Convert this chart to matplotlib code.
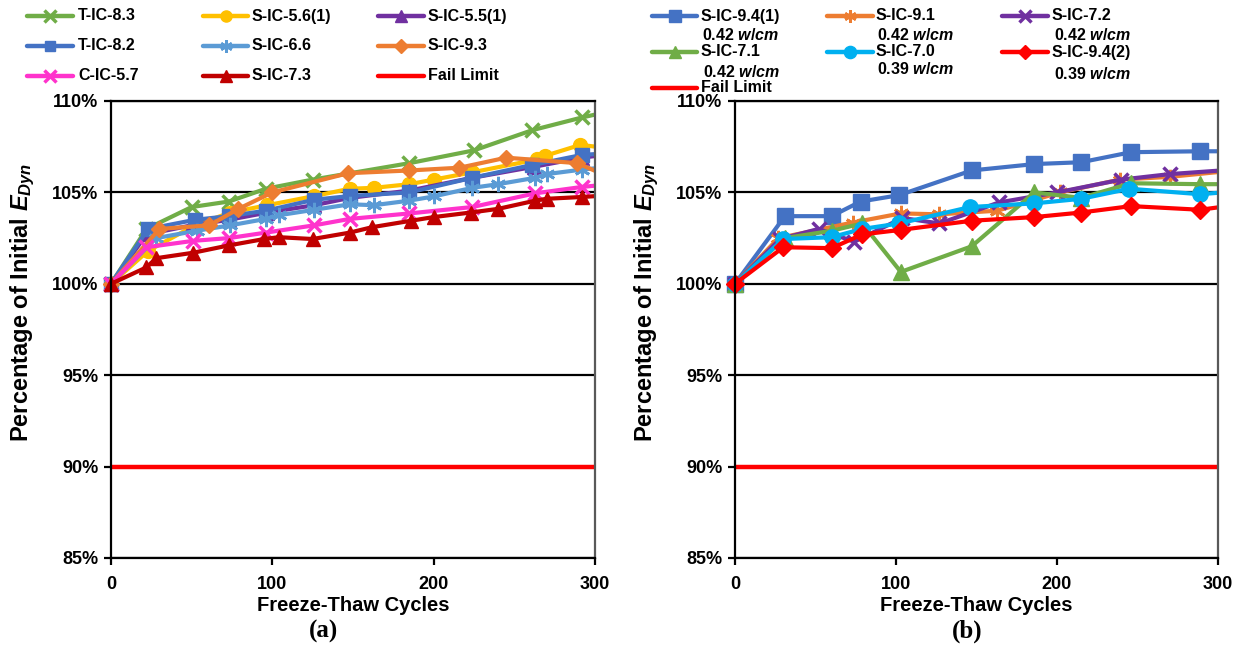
import numpy as np
import matplotlib
matplotlib.use('Agg')
import matplotlib.pyplot as plt
from matplotlib.lines import Line2D
from matplotlib.patches import Rectangle
from matplotlib.ticker import FuncFormatter

plt.rcParams['font.family'] = 'Liberation Sans'
plt.rcParams['font.weight'] = 'bold'
plt.rcParams['mathtext.fontset'] = 'custom'
plt.rcParams['mathtext.rm'] = 'Liberation Sans:bold'
plt.rcParams['mathtext.it'] = 'Liberation Sans:italic:bold'

# ---- (a) ----
t83_x = [0, 22, 50, 73, 96, 125, 185, 225, 261, 292, 310]
t83_y = [100, 103.0, 104.2, 104.5, 105.2, 105.7, 106.6, 107.3, 108.4, 109.1, 109.45]
s56_x = [0, 23, 52, 74, 97, 126, 148, 163, 185, 200, 224, 264, 269, 291, 310]
s56_y = [100, 101.8, 103.2, 103.9, 104.3, 104.8, 105.2, 105.25, 105.45, 105.7, 106.1, 106.8, 107.0, 107.6, 107.4]
s55_x = [0, 22, 50, 73, 97, 126, 148, 185, 224, 262, 292, 310]
s55_y = [100, 102.7, 103.2, 103.5, 103.9, 104.3, 104.7, 105.1, 105.8, 106.4, 106.9, 107.1]
t82_x = [0, 23, 52, 73, 96, 126, 148, 185, 224, 261, 292, 310]
t82_y = [100, 103.0, 103.5, 103.7, 104.0, 104.6, 104.8, 105.0, 105.8, 106.5, 107.05, 107.15]
s66_x = [0, 28, 53, 74, 96, 104, 126, 148, 163, 185, 200, 224, 240, 263, 270, 292, 310]
s66_y = [100, 102.5, 102.9, 103.2, 103.55, 103.75, 104.05, 104.35, 104.3, 104.55, 104.78,
         105.25, 105.45, 105.8, 106.0, 106.25, 106.4]
s93_x = [0, 30, 61, 79, 100, 147, 185, 216, 245, 289, 310]
s93_y = [100, 103.0, 103.2, 104.1, 105.0, 106.05, 106.2, 106.35, 106.9, 106.6, 105.8]
c57_x = [0, 22, 51, 73, 96, 126, 148, 185, 224, 263, 292, 310]
c57_y = [100, 102.0, 102.35, 102.5, 102.8, 103.2, 103.55, 103.85, 104.2, 104.95, 105.3, 105.45]
s73_x = [0, 22, 28, 51, 73, 95, 104, 125, 148, 162, 186, 200, 223, 240, 263, 270, 292, 310]
s73_y = [100, 100.9, 101.4, 101.7, 102.1, 102.45, 102.55, 102.45, 102.8, 103.1, 103.45,
         103.65, 103.9, 104.1, 104.55, 104.65, 104.75, 104.85]

# ---- (b) ----
s941_x = [0, 31, 60, 78, 102, 147, 186, 215, 246, 289, 310]
s941_y = [100, 103.7, 103.7, 104.5, 104.85, 106.2, 106.55, 106.65, 107.2, 107.25, 107.25]
s91_x = [0, 27, 73, 103, 127, 163, 202, 239, 270, 310]
s91_y = [100, 102.5, 103.35, 103.85, 103.8, 104.0, 105.0, 105.7, 105.85, 106.2]
s72_x = [0, 28, 52, 74, 104, 127, 164, 200, 240, 270, 310]
s72_y = [100, 102.45, 103.0, 102.3, 103.6, 103.3, 104.45, 105.0, 105.7, 106.0, 106.25]
s71_x = [0, 31, 60, 79, 103, 147, 186, 215, 246, 289, 310]
s71_y = [100, 102.5, 102.9, 103.3, 100.65, 102.05, 105.0, 104.7, 105.5, 105.45, 105.45]
s70_x = [0, 30, 60, 79, 102, 146, 186, 215, 245, 289, 310]
s70_y = [100, 102.45, 102.55, 103.0, 103.3, 104.2, 104.4, 104.65, 105.2, 104.9, 105.05]
s942_x = [0, 30, 60, 79, 103, 147, 186, 215, 246, 289, 310]
s942_y = [100, 102.0, 101.95, 102.7, 102.95, 103.45, 103.65, 103.9, 104.25, 104.05, 104.3]

fail_x = [0, 300]
fail_y = [90, 90]

ASTER = (6, 2, 0)
# label, x, y, color, marker, markersize, markeredgewidth
series_a = [
    ('T-IC-8.3', t83_x, t83_y, '#70AD47', 'x', 10, 2.5),
    ('S-IC-5.6(1)', s56_x, s56_y, '#FFC000', 'o', 10, 1),
    ('S-IC-5.5(1)', s55_x, s55_y, '#7030A0', '^', 10, 1),
    ('T-IC-8.2', t82_x, t82_y, '#4472C4', 's', 9.5, 1),
    ('S-IC-6.6', s66_x, s66_y, '#5B9BD5', ASTER, 11, 2),
    ('S-IC-9.3', s93_x, s93_y, '#ED7D31', 'D', 8.5, 1),
    ('C-IC-5.7', c57_x, c57_y, '#FF33CC', 'x', 10, 2.5),
    ('S-IC-7.3', s73_x, s73_y, '#C00000', '^', 10.5, 1),
]
series_b = [
    ('S-IC-9.4(1)', s941_x, s941_y, '#4472C4', 's', 11, 1),
    ('S-IC-9.1', s91_x, s91_y, '#ED7D31', ASTER, 11, 2),
    ('S-IC-7.2', s72_x, s72_y, '#7030A0', 'x', 10, 2.5),
    ('S-IC-7.1', s71_x, s71_y, '#70AD47', '^', 11, 1),
    ('S-IC-7.0', s70_x, s70_y, '#00B0F0', 'o', 11, 1),
    ('S-IC-9.4(2)', s942_x, s942_y, '#FF0000', 'D', 9.5, 1),
]

W, H = 1245, 661
fig = plt.figure(figsize=(W / 100, H / 100), dpi=100)


def fx(px):
    return px / W


def fy(py):
    return 1 - py / H


def setup(ax):
    ax.set_xlim(0, 300)
    ax.set_ylim(85, 110)
    ax.set_xticks([0, 100, 200, 300])
    ax.set_yticks([85, 90, 95, 100, 105, 110])
    ax.yaxis.set_major_formatter(FuncFormatter(lambda v, p: '%d%%' % v))
    ax.yaxis.grid(True, color='black', lw=1.6)
    ax.set_axisbelow(True)
    for s in ['left', 'bottom', 'top']:
        ax.spines[s].set_color('black')
        ax.spines[s].set_linewidth(1.6)
    ax.spines['right'].set_color('#595959')
    ax.spines['right'].set_linewidth(1.6)
    ax.tick_params(axis='both', direction='out', length=5, width=1.6, labelsize=13)
    ax.tick_params(axis='y', pad=4)
    ax.tick_params(axis='x', pad=8)
    ax.set_xlabel('Freeze-Thaw Cycles', fontsize=14.5, fontweight='bold')
    ax.xaxis.set_label_coords(0.5, -0.084)
    ax.set_ylabel(r'Percentage of Initial $\mathit{E_{Dyn}}$', fontsize=17,
                  fontweight='bold')
    ax.yaxis.set_label_coords(-0.153, 0.56)


def draw(ax, series):
    clip = Rectangle((-0.06, -0.1), 1.06, 1.2, transform=ax.transAxes)
    for name, x, y, c, m, ms, mew in series:
        ln, = ax.plot(x, y, color=c, lw=3, marker=m, ms=ms, mew=mew, mec=c, mfc=c)
        ln.set_clip_path(clip)
    ax.plot(fail_x, fail_y, color='#FF0000', lw=3.2, solid_capstyle='butt')


def key(x0, x1, y, color, marker=None, ms=0, mew=1):
    xs = [fx(x0), fx((x0 + x1) / 2), fx(x1)]
    ys = [fy(y)] * 3
    ln = Line2D(xs, ys, transform=fig.transFigure, color=color, lw=3.2,
                marker=marker, ms=ms * 0.8, mew=mew, mec=color, mfc=color,
                markevery=[1], solid_capstyle='round')
    fig.add_artist(ln)


ax1 = fig.add_axes([fx(111), 103 / H, 484 / W, 457 / H])
ax2 = fig.add_axes([fx(735), 103 / H, 483 / W, 457 / H])
setup(ax1)
setup(ax2)
draw(ax1, series_a)
draw(ax2, series_b)

LFS = 11.5

# legend for (a): three columns, row-wise order
cols_a = [(27, 73, 78), (203, 248, 252), (378, 424, 428)]
rows_a = [16, 46, 76]
entries_a = series_a + [('Fail Limit', None, None, '#FF0000', None, 0, 1)]
for i, (name, _, _, c, m, ms, mew) in enumerate(entries_a):
    x0, x1, tx = cols_a[i % 3]
    y = rows_a[i // 3]
    key(x0, x1, y, c, m, ms, mew)
    fig.text(fx(tx), fy(y), name, fontsize=LFS, fontweight='bold', va='center')

# legend for (b): two-line labels
cols_b = [(652, 697, 701), (827, 873, 876), (1002, 1048, 1052)]
subs_b = ['0.42 $w/cm$', '0.42 $w/cm$', '0.42 $w/cm$',
          '0.42 $w/cm$', '0.39 $w/cm$', '0.39 $w/cm$']
sub_dy = [19, 19, 19, 20, 17, 22]
sub_dx = [1, 1, 2, 2, 1, 2]
for i, (name, _, _, c, m, ms, mew) in enumerate(series_b):
    x0, x1, tx = cols_b[i % 3]
    y = [16, 52][i // 3]
    key(x0, x1, y, c, m, ms, mew)
    fig.text(fx(tx), fy(y), name, fontsize=LFS, fontweight='bold', va='center')
    fig.text(fx(tx + sub_dx[i]), fy(y + sub_dy[i]), subs_b[i], fontsize=LFS,
             fontweight='bold', va='center')
key(652, 697, 88, '#FF0000')
fig.text(fx(701), fy(87), 'Fail Limit', fontsize=LFS, fontweight='bold', va='center')

fig.text(fx(323), fy(631), '(a)', fontsize=18, fontweight='bold',
         family='Liberation Serif', ha='center', va='center')
fig.text(fx(967), fy(631), '(b)', fontsize=18, fontweight='bold',
         family='Liberation Serif', ha='center', va='center')

fig.savefig('out.png', dpi=100)
